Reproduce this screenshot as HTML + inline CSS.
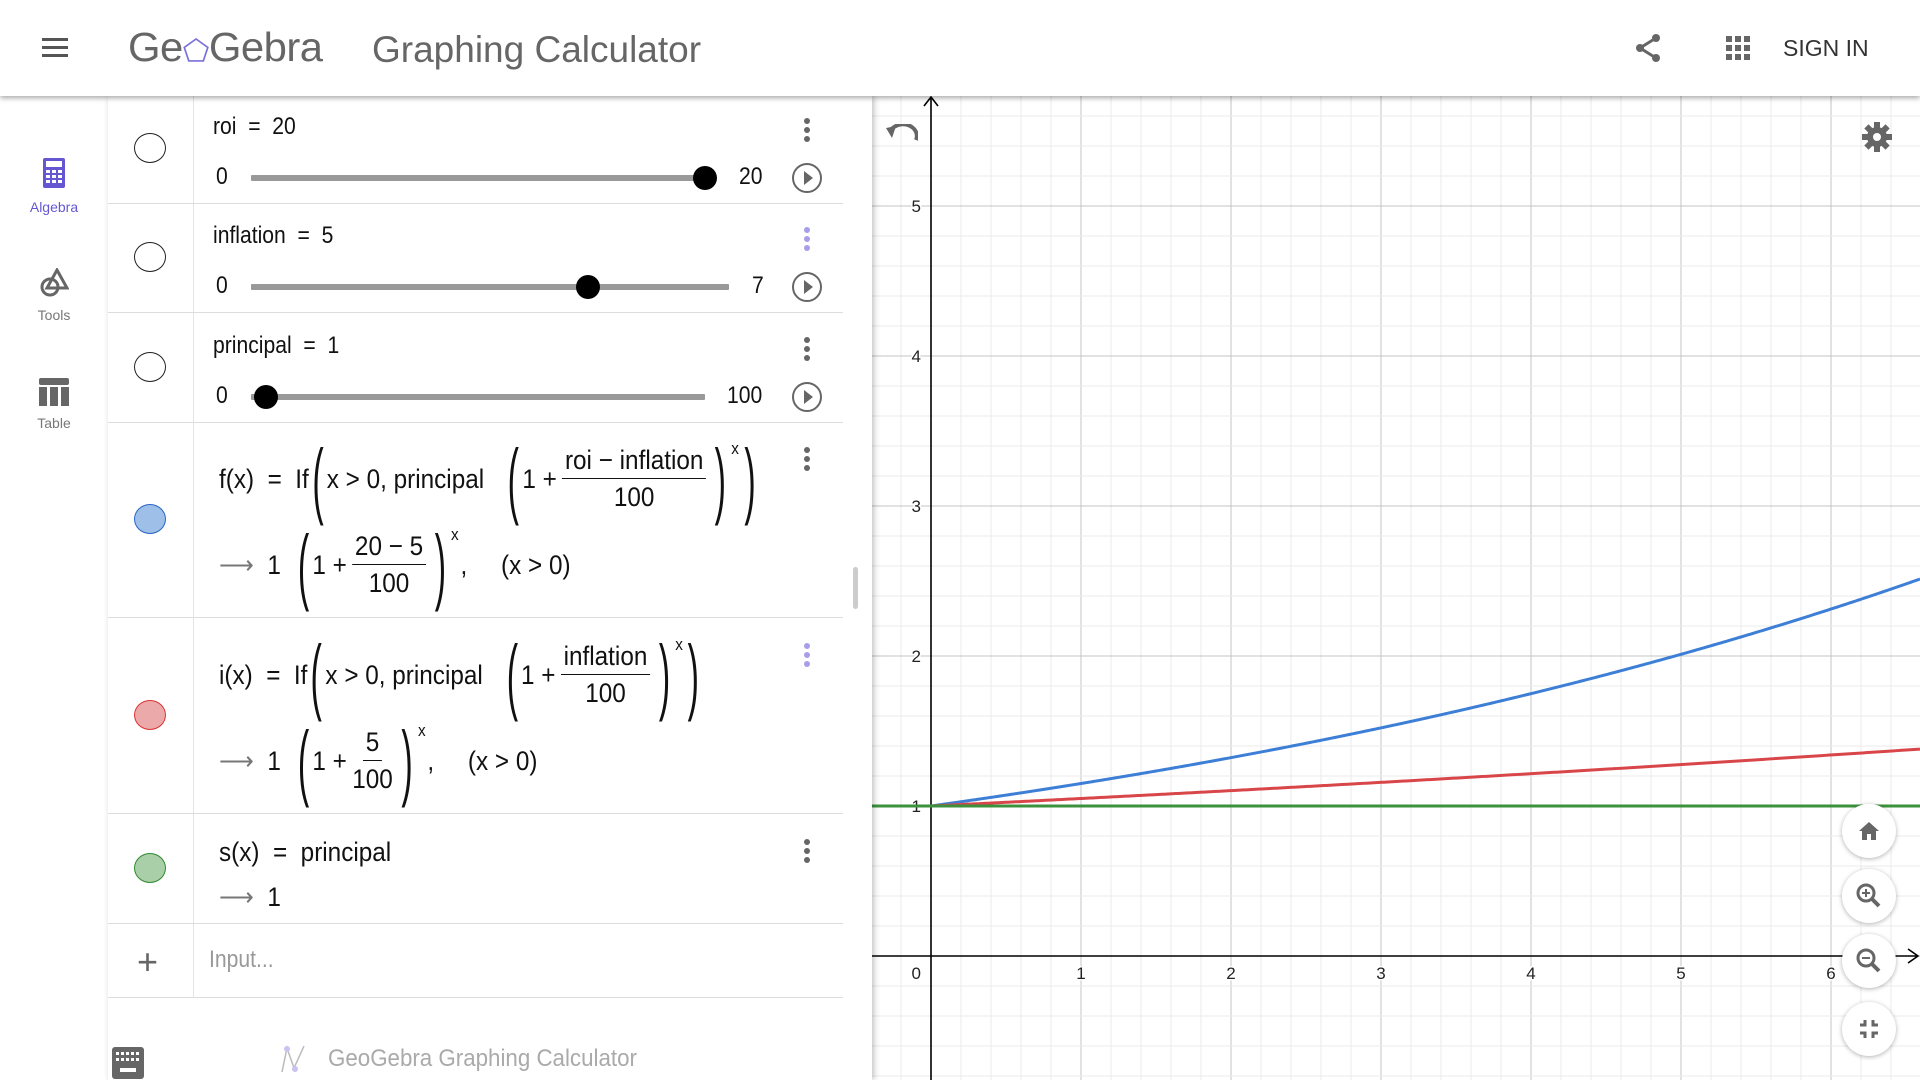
<!DOCTYPE html>
<html><head><meta charset="utf-8">
<style>
*{margin:0;padding:0;box-sizing:border-box}
body{width:1920px;height:1080px;overflow:hidden;background:#fff;font-family:"Liberation Sans",sans-serif;position:relative}
.abs{position:absolute}
#header{left:0;top:0;width:1920px;height:96px;background:#fff;box-shadow:0 2px 5px rgba(0,0,0,.35);z-index:5}
#sidebar{left:0;top:96px;width:108px;height:984px;background:#fff}
#panel{left:108px;top:96px;width:764px;height:984px;background:#fff;box-shadow:2px 0 6px rgba(0,0,0,.25);z-index:3}
.sep{position:absolute;left:0;width:735px;height:1px;background:#ddd}
.vsep{position:absolute;left:85px;width:1px;background:#e4e4e4}
.tog{position:absolute;left:26px;width:32px;height:30px;border-radius:50%;border:1.5px solid #222}
.math{position:absolute;font-family:"Liberation Sans",sans-serif;color:#111;font-size:27px;transform:scaleX(.9);transform-origin:left center;white-space:nowrap;display:flex;align-items:center}
.lbl{position:absolute;font-size:24px;color:#111;transform:scaleX(.88);transform-origin:left center;white-space:nowrap}
.track{position:absolute;height:6px;background:#999;border-radius:1px}
.thumb{position:absolute;width:24px;height:24px;border-radius:50%;background:#000}
.play{position:absolute;width:30px;height:30px;border-radius:50%;border:2.5px solid #666;background:#fff}
.play:after{content:"";position:absolute;left:10px;top:6px;border-left:9px solid #666;border-top:7px solid transparent;border-bottom:7px solid transparent}
.dots{position:absolute;width:6px}
.dots i{display:block;width:6px;height:6px;border-radius:50%;background:#666;margin-bottom:3px}
.dots.p i{background:#a79ee8}
.frac{display:inline-flex;flex-direction:column;align-items:center;margin:0 6px}
.frac .n{border-bottom:1.5px solid #111;padding:0 3px 2px}
.frac .d{padding-top:3px}
.bp{font-size:84px;font-weight:100;line-height:1;transform:scaleX(.45);display:inline-block;margin:0 -4px}
sup{font-size:17px;align-self:flex-start;margin:-2px 2px 0 2px}
.fab{position:absolute;left:1842px;width:54px;height:54px;border-radius:50%;background:#fff;box-shadow:0 1px 5px rgba(0,0,0,.3);z-index:4}
</style></head><body>
<div id="header" class="abs">
  <div class="abs" style="left:42px;top:38px;width:26px;height:20px">
    <div style="height:3px;background:#555;margin-bottom:5px"></div><div style="height:3px;background:#555;margin-bottom:5px"></div><div style="height:3px;background:#555"></div>
  </div>
  <div class="abs" style="left:128px;top:24px;font-size:41px;color:#666;letter-spacing:-0.5px;transform:scaleX(1.02);transform-origin:left">Ge<span style="color:#7a72d8;font-size:30px">&#x2B20;</span>Gebra</div>
  <div class="abs" style="left:372px;top:29px;font-size:37px;color:#666">Graphing Calculator</div>
  <svg class="abs" style="left:1632px;top:32px" width="32" height="32" viewBox="0 0 32 32"><circle cx="24" cy="6" r="4" fill="#666"/><circle cx="8" cy="16" r="4" fill="#666"/><circle cx="24" cy="26" r="4" fill="#666"/><path d="M24 6L8 16L24 26" stroke="#666" stroke-width="3" fill="none"/></svg>
  <svg class="abs" style="left:1726px;top:36px" width="25" height="25"><g fill="#666"><rect x="0" y="0" width="6" height="6"/><rect x="9" y="0" width="6" height="6"/><rect x="18" y="0" width="6" height="6"/><rect x="0" y="9" width="6" height="6"/><rect x="9" y="9" width="6" height="6"/><rect x="18" y="9" width="6" height="6"/><rect x="0" y="18" width="6" height="6"/><rect x="9" y="18" width="6" height="6"/><rect x="18" y="18" width="6" height="6"/></g></svg>
  <div class="abs" style="left:1783px;top:35px;font-size:23px;color:#333">SIGN IN</div>
</div>

<div id="sidebar" class="abs">
  <div class="abs" style="left:0;top:62px;width:108px;text-align:center">
    <svg width="22" height="30" viewBox="0 0 22 30"><rect x="0" y="0" width="22" height="30" rx="2" fill="#6557d2"/><rect x="3" y="3" width="16" height="6" fill="#fff"/><g fill="#fff"><rect x="3" y="12" width="4" height="3"/><rect x="9" y="12" width="4" height="3"/><rect x="15" y="12" width="4" height="3"/><rect x="3" y="17" width="4" height="3"/><rect x="9" y="17" width="4" height="3"/><rect x="15" y="17" width="4" height="3"/><rect x="3" y="22" width="4" height="3"/><rect x="9" y="22" width="4" height="3"/><rect x="15" y="22" width="4" height="3"/></g></svg>
    <div style="font-size:14px;color:#6557d2;margin-top:6px">Algebra</div>
  </div>
  <div class="abs" style="left:0;top:172px;width:108px;text-align:center">
    <svg width="30" height="30" viewBox="0 0 30 30"><circle cx="11" cy="19" r="8" fill="none" stroke="#666" stroke-width="3"/><path d="M18 2L28 20H8Z" fill="none" stroke="#666" stroke-width="3"/></svg>
    <div style="font-size:14px;color:#777;margin-top:4px">Tools</div>
  </div>
  <div class="abs" style="left:0;top:282px;width:108px;text-align:center">
    <svg width="30" height="28" viewBox="0 0 30 28"><rect x="0" y="0" width="30" height="7" rx="2" fill="#666"/><rect x="0" y="9" width="8" height="19" fill="#666"/><rect x="11" y="9" width="8" height="19" fill="#666"/><rect x="22" y="9" width="8" height="19" fill="#666"/></svg>
    <div style="font-size:14px;color:#777;margin-top:4px">Table</div>
  </div>
</div>

<div id="panel" class="abs">
  <div class="vsep" style="top:0;height:902px"></div>
  <div class="tog" style="top:37px"></div>
  <div class="lbl" style="left:105px;top:17px">roi&nbsp; = &nbsp;20</div>
  <div class="dots" style="left:696px;top:22px"><i></i><i></i><i></i></div>
  <div class="lbl" style="left:108px;top:67px">0</div>
  <div class="track" style="left:143px;top:79px;width:454px"></div>
  <div class="thumb" style="left:585px;top:70px"></div>
  <div class="lbl" style="left:631px;top:67px">20</div>
  <div class="play" style="left:684px;top:67px"></div>
  <div class="sep" style="top:107px"></div>
  <div class="tog" style="top:146px"></div>
  <div class="lbl" style="left:105px;top:126px">inflation&nbsp; = &nbsp;5</div>
  <div class="dots p" style="left:696px;top:131px"><i></i><i></i><i></i></div>
  <div class="lbl" style="left:108px;top:176px">0</div>
  <div class="track" style="left:143px;top:188px;width:478px"></div>
  <div class="thumb" style="left:468px;top:179px"></div>
  <div class="lbl" style="left:644px;top:176px">7</div>
  <div class="play" style="left:684px;top:176px"></div>
  <div class="sep" style="top:216px"></div>
  <div class="tog" style="top:256px"></div>
  <div class="lbl" style="left:105px;top:236px">principal&nbsp; = &nbsp;1</div>
  <div class="dots" style="left:696px;top:241px"><i></i><i></i><i></i></div>
  <div class="lbl" style="left:108px;top:286px">0</div>
  <div class="track" style="left:143px;top:298px;width:454px"></div>
  <div class="thumb" style="left:146px;top:289px"></div>
  <div class="lbl" style="left:619px;top:286px">100</div>
  <div class="play" style="left:684px;top:286px"></div>
  <div class="sep" style="top:326px"></div>
  <div class="tog" style="top:408px;background:#9dbfe8;border-color:#2a66c4;border-width:1px"></div>
  <div class="math" style="left:111px;top:345px;height:76px">f(x)&nbsp;&nbsp;=&nbsp;&nbsp;If<span class="bp">(</span>x &gt; 0, principal&nbsp;&nbsp;&nbsp;<span class="bp">(</span>1 +<span class="frac"><span class="n">roi − inflation</span><span class="d">100</span></span><span class="bp">)</span><sup>x</sup><span class="bp">)</span></div>
  <div class="dots" style="left:696px;top:351px"><i></i><i></i><i></i></div>
  <div class="math" style="left:111px;top:431px;height:76px"><span style="color:#777">⟶</span>&nbsp;&nbsp;1&nbsp;&nbsp;<span class="bp">(</span>1 +<span class="frac"><span class="n">20 − 5</span><span class="d">100</span></span><span class="bp">)</span><sup>x</sup>,&nbsp;&nbsp;&nbsp;&nbsp;&nbsp;(x &gt; 0)</div>
  <div class="sep" style="top:521px"></div>
  <div class="tog" style="top:604px;background:#eba9a9;border-color:#d33;border-width:1px"></div>
  <div class="math" style="left:111px;top:541px;height:76px">i(x)&nbsp;&nbsp;=&nbsp;&nbsp;If<span class="bp">(</span>x &gt; 0, principal&nbsp;&nbsp;&nbsp;<span class="bp">(</span>1 +<span class="frac"><span class="n">inflation</span><span class="d">100</span></span><span class="bp">)</span><sup>x</sup><span class="bp">)</span></div>
  <div class="dots p" style="left:696px;top:547px"><i></i><i></i><i></i></div>
  <div class="math" style="left:111px;top:627px;height:76px"><span style="color:#777">⟶</span>&nbsp;&nbsp;1&nbsp;&nbsp;<span class="bp">(</span>1 +<span class="frac"><span class="n">5</span><span class="d">100</span></span><span class="bp">)</span><sup>x</sup>,&nbsp;&nbsp;&nbsp;&nbsp;&nbsp;(x &gt; 0)</div>
  <div class="sep" style="top:717px"></div>
  <div class="tog" style="top:757px;background:#a9cfa9;border-color:#2f8a2f;border-width:1px"></div>
  <div class="math" style="left:111px;top:740px;height:32px">s(x)&nbsp;&nbsp;=&nbsp;&nbsp;principal</div>
  <div class="dots" style="left:696px;top:743px"><i></i><i></i><i></i></div>
  <div class="math" style="left:111px;top:785px;height:32px"><span style="color:#777">⟶</span>&nbsp;&nbsp;1</div>
  <div class="sep" style="top:827px"></div>
  <div class="abs" style="left:29px;top:848px;font-size:36px;color:#666;line-height:1">+</div>
  <div class="lbl" style="left:101px;top:850px;color:#999">Input...</div>
  <div class="sep" style="top:901px"></div>
  <div class="abs" style="left:745px;top:471px;width:5px;height:42px;background:#ccc;border-radius:3px"></div>
  <svg class="abs" style="left:4px;top:951px" width="32" height="32"><rect width="32" height="32" rx="3" fill="#666"/><g fill="#fff"><rect x="4" y="5" width="3" height="3"/><rect x="9" y="5" width="3" height="3"/><rect x="14" y="5" width="3" height="3"/><rect x="19" y="5" width="3" height="3"/><rect x="24" y="5" width="3" height="3"/><rect x="4" y="11" width="3" height="3"/><rect x="9" y="11" width="3" height="3"/><rect x="14" y="11" width="3" height="3"/><rect x="19" y="11" width="3" height="3"/><rect x="24" y="11" width="3" height="3"/><rect x="8" y="21" width="16" height="4"/></g></svg>
  <svg class="abs" style="left:172px;top:948px" width="26" height="30"><path d="M2 28L7 4L14 24L24 2" stroke="#bbb" stroke-width="1.5" fill="none"/><circle cx="7" cy="5" r="3" fill="#c8c3f0"/><circle cx="15" cy="25" r="3" fill="#c8c3f0"/></svg>
  <div class="abs" style="left:220px;top:949px;font-size:24px;color:#aaa;transform:scaleX(.93);transform-origin:left">GeoGebra Graphing Calculator</div>
</div>

<svg id="graph" class="abs" style="left:872px;top:96px" width="1048" height="984"></svg>

<svg class="abs" style="left:886px;top:124px;z-index:4" width="32" height="20"><path d="M4 8 A13 11 0 0 1 30 16" stroke="#666" stroke-width="4" fill="none"/><path d="M0 4L10 2L6 14Z" fill="#666"/></svg>
<svg class="abs" style="left:1862px;top:122px;z-index:4" width="30" height="30" viewBox="0 0 30 30"><g fill="#666"><circle cx="15" cy="15" r="10"/><rect x="12" y="0" width="6" height="30"/><rect x="0" y="12" width="30" height="6"/><rect x="12" y="0" width="6" height="30" transform="rotate(45 15 15)"/><rect x="12" y="0" width="6" height="30" transform="rotate(-45 15 15)"/></g><circle cx="15" cy="15" r="4" fill="#fff"/></svg>
<div class="fab" style="top:804px"><svg width="54" height="54"><path d="M17 27L27 18L37 27H34V36H29V30H25V36H20V27Z" fill="#666"/></svg></div>
<div class="fab" style="top:869px"><svg width="54" height="54"><circle cx="24" cy="24" r="8" stroke="#666" stroke-width="3" fill="none"/><path d="M30 30L37 37" stroke="#666" stroke-width="4"/><path d="M20 24H28M24 20V28" stroke="#666" stroke-width="2"/></svg></div>
<div class="fab" style="top:934px"><svg width="54" height="54"><circle cx="24" cy="24" r="8" stroke="#666" stroke-width="3" fill="none"/><path d="M30 30L37 37" stroke="#666" stroke-width="4"/><path d="M20 24H28" stroke="#666" stroke-width="2"/></svg></div>
<div class="fab" style="top:1002px"><svg width="54" height="54"><path d="M23 18V23H18M31 18V23H36M23 36V31H18M31 36V31H36" stroke="#666" stroke-width="3" fill="none"/></svg></div>

<script>
const sliderNames = ['roi','inflation','principal'];
const sliderValues = [20, 5, 1];
const seriesNames = ['f','i','s'];
const seriesColors = ['#3d7fd6','#d9464a','#3c923c'];
const xTicks = [1,2,3,4,5,6];
const yTicks = [1,2,3,4,5];
const xRange = [-0.4, 6.6];
const yRange = [-0.83, 5.73];

const W = 1048, H = 984, ox = 59, oy = 860, unit = 150;
const sx = v => ox + v*unit;
const sy = v => oy - v*unit;
const NS = 'http://www.w3.org/2000/svg';
const g = document.getElementById('graph');
function mk(tag, attrs){const e=document.createElementNS(NS,tag);for(const k in attrs)e.setAttribute(k,attrs[k]);g.appendChild(e);return e;}

for(let k=Math.ceil(xRange[0]*5);k<=xRange[1]*5;k++){
  const l=mk('line',{x1:sx(k/5),x2:sx(k/5),y1:0,y2:H,stroke:k%5?'#ebebeb':'#c4c4c4','stroke-width':1});
  
  
}
for(let k=Math.ceil(yRange[0]*5);k<=yRange[1]*5;k++){
  const l=mk('line',{x1:0,x2:W,y1:sy(k/5),y2:sy(k/5),stroke:k%5?'#ebebeb':'#c4c4c4','stroke-width':1});
  
  
}
const xa=mk('path',{d:`M0 ${oy}H${W-2}M${W-12} ${oy-7}L${W-2} ${oy}L${W-12} ${oy+7}`,stroke:'#000','stroke-width':1.6,fill:'none'});


const ya=mk('path',{d:`M${ox} ${H}V1M${ox-7} 10L${ox} 1L${ox+7} 10`,stroke:'#000','stroke-width':1.6,fill:'none'});



function txt(s,x,y,anchor,name){
  const t=mk('text',{x:x,y:y,'text-anchor':anchor,'font-size':17,'font-family':'Liberation Sans, sans-serif',fill:'#222'});
  t.textContent=s;
  
  
  t.setAttribute('paint-order','stroke');t.setAttribute('stroke','#fff');t.setAttribute('stroke-width',3);
}
xTicks.forEach(v=>txt(String(v),sx(v),oy+23,'middle','x-tick-label'));
yTicks.forEach(v=>txt(String(v),ox-10,sy(v)+6,'end','y-tick-label'));
txt('0',ox-10,oy+23,'end','origin-label');

const roi=sliderValues[0], inflation=sliderValues[1], principal=sliderValues[2];
const fns=[
  x=> x>0 ? principal*Math.pow(1+(roi-inflation)/100,x) : null,
  x=> x>0 ? principal*Math.pow(1+inflation/100,x) : null,
  x=> principal
];
fns.forEach((fn,i)=>{
  let d='';
  for(let px=0;px<=W;px+=2){
    const x=(px-ox)/unit, y=fn(x);
    if(y===null) continue;
    d+=(d?'L':'M')+px+' '+sy(y).toFixed(2);
  }
  if(i<2){d='M'+ox+' '+sy(principal)+d.replace(/^M/,'L');}
  const p=mk('path',{d:d,stroke:seriesColors[i],'stroke-width':3,fill:'none'});
  
  
});
</script>
</body></html>
